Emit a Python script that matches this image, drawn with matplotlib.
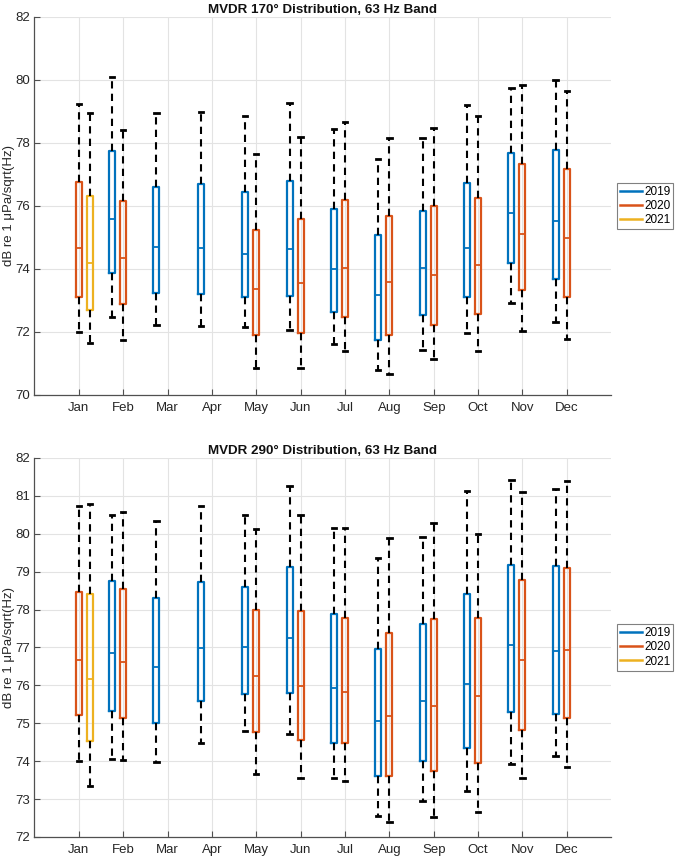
import matplotlib
matplotlib.use("Agg")
import matplotlib.pyplot as plt
from matplotlib.lines import Line2D

months = ["Jan", "Feb", "Mar", "Apr", "May", "Jun", "Jul", "Aug", "Sep", "Oct", "Nov", "Dec"]
years = ["2019", "2020", "2021"]
colors = {"2019": "#0072BD", "2020": "#D95319", "2021": "#EDB120"}
offsets = {"2019": -0.25, "2020": 0.0, "2021": 0.25}

# Panel 1: MVDR 170 deg  -- each entry: (lower whisker, q1, median, q3, upper whisker) per month, None = missing
p1_2019 = [None,
           (72.49, 73.86, 75.59, 77.76, 80.09),
           (72.23, 73.25, 74.71, 76.61, 78.94),
           (72.19, 73.21, 74.68, 76.71, 78.97),
           (72.17, 73.12, 74.46, 76.43, 78.84),
           (72.06, 73.14, 74.64, 76.79, 79.26),
           (71.62, 72.63, 73.99, 75.89, 78.43),
           (70.79, 71.75, 73.17, 75.09, 77.49),
           (71.43, 72.55, 74.02, 75.83, 78.17),
           (71.96, 73.12, 74.68, 76.72, 79.21),
           (72.93, 74.20, 75.79, 77.69, 79.75),
           (72.31, 73.67, 75.52, 77.78, 80.00)]
p1_2020 = [(72.00, 73.12, 74.68, 76.76, 79.24),
           (71.75, 72.89, 74.34, 76.17, 78.41),
           None, None,
           (70.87, 71.91, 73.35, 75.25, 77.64),
           (70.86, 71.96, 73.55, 75.58, 78.18),
           (71.39, 72.49, 74.04, 76.18, 78.67),
           (70.67, 71.90, 73.60, 75.69, 78.15),
           (71.13, 72.23, 73.82, 75.99, 78.47),
           (71.39, 72.57, 74.13, 76.25, 78.86),
           (72.03, 73.33, 75.11, 77.33, 79.84),
           (71.77, 73.12, 74.98, 77.18, 79.66)]
p1_2021 = [(71.66, 72.70, 74.19, 76.32, 78.94)] + [None] * 11

# Panel 2: MVDR 290 deg
p2_2019 = [None,
           (74.07, 75.32, 76.85, 78.75, 80.50),
           (73.99, 75.02, 76.49, 78.30, 80.34),
           (74.49, 75.58, 76.99, 78.73, 80.73),
           (74.80, 75.76, 77.00, 78.60, 80.50),
           (74.73, 75.80, 77.26, 79.13, 81.26),
           (73.55, 74.49, 75.92, 77.89, 80.15),
           (72.56, 73.61, 75.07, 76.97, 79.36),
           (72.96, 74.00, 75.60, 77.63, 79.92),
           (73.22, 74.34, 76.04, 78.42, 81.13),
           (73.92, 75.31, 77.07, 79.17, 81.42),
           (74.15, 75.24, 76.90, 79.16, 81.18)]
p2_2020 = [(74.01, 75.21, 76.68, 78.46, 80.73),
           (74.04, 75.13, 76.63, 78.54, 80.57),
           None, None,
           (73.65, 74.77, 76.26, 77.98, 80.13),
           (73.55, 74.57, 75.99, 77.96, 80.50),
           (73.49, 74.47, 75.83, 77.79, 80.15),
           (72.40, 73.61, 75.20, 77.38, 79.89),
           (72.52, 73.75, 75.46, 77.76, 80.28),
           (72.65, 73.96, 75.72, 77.79, 79.99),
           (73.56, 74.82, 76.66, 78.79, 81.09),
           (73.84, 75.14, 76.94, 79.11, 81.39)]
p2_2021 = [(73.35, 74.52, 76.17, 78.40, 80.79)] + [None] * 11

panels = [
    ("MVDR 170\u00b0 Distribution, 63 Hz Band", {"2019": p1_2019, "2020": p1_2020, "2021": p1_2021},
     (70, 82), list(range(70, 83, 2))),
    ("MVDR 290\u00b0 Distribution, 63 Hz Band", {"2019": p2_2019, "2020": p2_2020, "2021": p2_2021},
     (72, 82), list(range(72, 83, 1))),
]

plt.rcParams["font.family"] = ["Liberation Sans", "DejaVu Sans"]
fig = plt.figure(figsize=(6.76, 8.56), dpi=100)
axes_rects = [[0.051, 0.5386, 0.853, 0.4416], [0.051, 0.0222, 0.853, 0.4428]]
axis_col = "#505050"

for rect, (title, data, ylim, yticks) in zip(axes_rects, panels):
    ax = fig.add_axes(rect)
    for yr in years:
        stats, pos = [], []
        for i, s in enumerate(data[yr]):
            if s is None:
                continue
            lo, q1, med, q3, hi = s
            stats.append({"whislo": lo, "q1": q1, "med": med, "q3": q3, "whishi": hi, "fliers": []})
            pos.append(i + 1 + offsets[yr])
        if not stats:
            continue
        c = colors[yr]
        ax.bxp(stats, positions=pos, widths=0.135, capwidths=0.1, showfliers=False,
               boxprops=dict(color=c, linewidth=1.6),
               medianprops=dict(color=c, linewidth=1.3),
               whiskerprops=dict(color="black", linewidth=1.5, linestyle=(0, (3.5, 2.5))),
               capprops=dict(color="black", linewidth=2.0),
               manage_ticks=False, zorder=3)
    ax.set_xlim(0, 13)
    ax.set_ylim(*ylim)
    ax.set_xticks(range(1, 13))
    ax.set_xticklabels(months)
    ax.set_yticks(yticks)
    ax.grid(True, color="#e3e3e3", linewidth=0.8, zorder=0)
    ax.set_axisbelow(True)
    for sp in ["top", "right"]:
        ax.spines[sp].set_visible(False)
    for sp in ["left", "bottom"]:
        ax.spines[sp].set_color(axis_col)
        ax.spines[sp].set_linewidth(0.9)
    ax.tick_params(direction="in", length=4, width=0.8, color=axis_col, labelsize=9.5,
                   labelcolor="#262626")
    ax.tick_params(axis="y", pad=3)
    ax.tick_params(axis="x", pad=5)
    ax.set_title(title, fontsize=9.6, fontweight="bold", pad=2.5, color="#111111")
    ax.set_ylabel("dB re 1 \u03bcPa/sqrt(Hz)", fontsize=9.5, color="#262626")
    ax.yaxis.set_label_coords(-0.033, 0.5)
    handles = [Line2D([0], [0], color=colors[y], linewidth=1.8) for y in years]
    leg = ax.legend(handles, years, loc="center left", bbox_to_anchor=(1.01, 0.5),
                    fontsize=8.5, fancybox=False, framealpha=1, edgecolor="#808080",
                    handlelength=1.9, handletextpad=0.15, borderpad=0.25, labelspacing=0.18,
                    borderaxespad=0.0)
    leg.get_frame().set_linewidth(0.8)

fig.savefig("out.png", dpi=100)
